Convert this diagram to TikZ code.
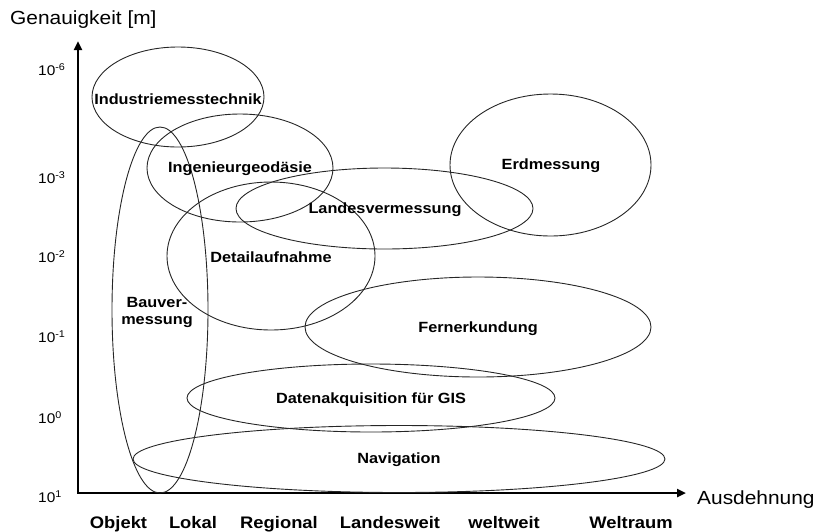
\documentclass[tikz,border=0pt]{standalone}
\usepackage{fontspec}
\setmainfont{Liberation Sans}[FakeStretch=1.1]
\usetikzlibrary{arrows.meta}
\tikzset{
  ell/.style={draw=black!85, line width=0.9pt},
  lbl/.style={font=\fontsize{14.8}{17}\selectfont\bfseries, inner sep=0pt, align=center},
  cat/.style={font=\fontsize{16.7}{19}\selectfont\bfseries, inner sep=0pt, anchor=base},
  tick/.style={font=\fontsize{14}{16}\selectfont, inner sep=0pt, anchor=base west},
  axtitle/.style={font=\fontsize{19}{22}\selectfont, inner sep=0pt, anchor=west},
  axisline/.style={line width=2.6pt, {Triangle[length=9pt,width=8pt]}-{Triangle[length=9pt,width=8pt]}}
}
\begin{document}
\begin{tikzpicture}[x=1pt,y=-1pt]
\useasboundingbox (0,0) rectangle (818,531);
% axes
\coordinate (ytop) at (78,41);
\coordinate (xend) at (686,493);
\draw[axisline] (ytop) |- (xend);
% axis titles
\node[axtitle] (gen) at (10,20) {Genauigkeit [m]};
\node[axtitle] (aus) at (697,500) {Ausdehnung};
% tick labels
\node[tick] (t6) at (38,75.5) {10\textsuperscript{-6}};
\node[tick] (t3) at (38,183.5) {10\textsuperscript{-3}};
\node[tick] (t2) at (38,262.5) {10\textsuperscript{-2}};
\node[tick] (t1) at (38,342.5) {10\textsuperscript{-1}};
\node[tick] (t0) at (38,423.5) {10\textsuperscript{0}};
\node[tick] (tp1) at (38,502.5) {10\textsuperscript{1}};
% category labels
\node[cat] (c1) at (118.5,528.5) {Objekt};
\node[cat] (c2) at (193,528.5) {Lokal};
\node[cat] (c3) at (279,528.5) {Regional};
\node[cat] (c4) at (390,528.5) {Landesweit};
\node[cat] (c5) at (504,528.5) {weltweit};
\node[cat] (c6) at (631,528.5) {Weltraum};
% ellipses
\draw[ell] (178,97) ellipse [x radius=86pt, y radius=50pt];
\draw[ell] (160,310) ellipse [x radius=48pt, y radius=183pt];
\draw[ell] (240,168) ellipse [x radius=93pt, y radius=54pt];
\draw[ell] (384.5,208.5) ellipse [x radius=148.5pt, y radius=40.5pt];
\draw[ell] (550.5,165) ellipse [x radius=100.5pt, y radius=71pt];
\draw[ell] (271,256) ellipse [x radius=104pt, y radius=74pt];
\draw[ell] (478,327) ellipse [x radius=173pt, y radius=50pt];
\draw[ell] (371,398) ellipse [x radius=184pt, y radius=34pt];
\draw[ell] (399,459) ellipse [x radius=266pt, y radius=33.5pt];
% labels
\node[lbl] (ind) at (178,99) {Industriemesstechnik};
\node[lbl] (bau) at (157,312) {Bauver-\\messung};
\node[lbl] (ing) at (240,169) {Ingenieurgeodäsie};
\node[lbl] (lan) at (385,210) {Landesvermessung};
\node[lbl] (erd) at (551,166) {Erdmessung};
\node[lbl] (det) at (271,257) {Detailaufnahme};
\node[lbl] (fer) at (478,329) {Fernerkundung};
\node[lbl] (dat) at (371,400) {Datenakquisition für GIS};
\node[lbl] (nav) at (399,460) {Navigation};
\end{tikzpicture}
\end{document}
